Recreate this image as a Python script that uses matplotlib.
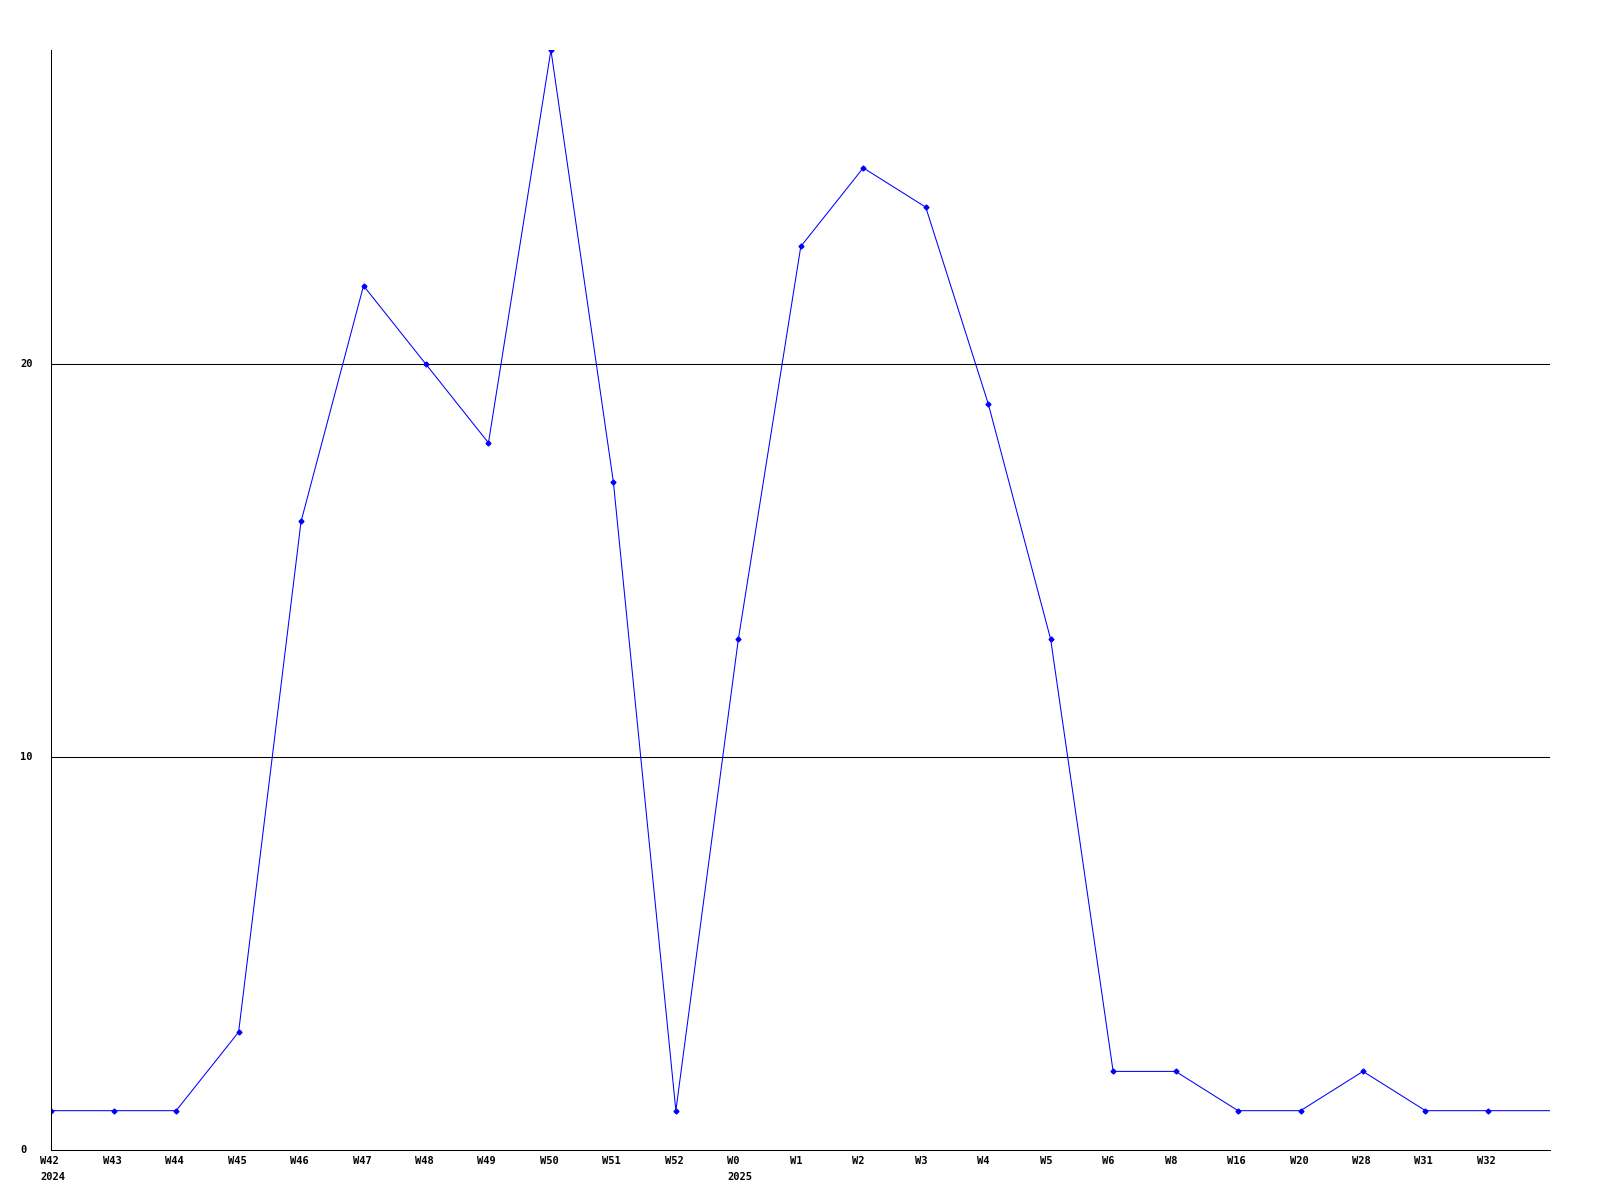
import matplotlib
matplotlib.use("Agg")
import matplotlib.pyplot as plt
import matplotlib.transforms as mtransforms

# weekly counts
weeks = ["W42", "W43", "W44", "W45", "W46", "W47", "W48", "W49", "W50", "W51",
         "W52", "W0", "W1", "W2", "W3", "W4", "W5", "W6", "W8", "W16",
         "W20", "W28", "W31", "W32"]
years = {0: "2024", 11: "2025"}
counts = [1, 1, 1, 3, 16, 22, 20, 18, 28, 17,
          1, 13, 23, 25, 24, 19, 13, 2, 2, 1,
          1, 2, 1, 1]
y_ticks = [0, 10, 20]

fig = plt.figure(figsize=(16, 12), dpi=100)
ax = fig.add_axes([0.032, 0.0417, 0.937, 0.9166])

x = list(range(len(weeks)))
n = len(weeks)
lw = 0.75  # about one pixel
# line continues flat to the right edge
ax.plot(x + [n], counts + [counts[-1]], color="#0000ff", linewidth=lw)
ax.plot(x, counts, linestyle="none", marker="D", markersize=2.5, color="#0000ff")

ax.set_xlim(0, n)
ax.set_ylim(0, max(counts))

for t in y_ticks[1:]:
    ax.axhline(t, color="black", linewidth=lw, zorder=0)

for s in ["top", "right"]:
    ax.spines[s].set_visible(False)
for s in ["left", "bottom"]:
    ax.spines[s].set_color("black")
    ax.spines[s].set_linewidth(lw)

ax.set_xticks([])
ax.set_yticks([])

font = dict(family="DejaVu Sans Mono", weight="bold", fontsize=7.5, color="black")

# x labels, left-aligned a bit left of the point
trans_x = ax.get_xaxis_transform()
for i, w in enumerate(weeks):
    off = mtransforms.offset_copy(trans_x, fig=fig, x=-11, y=-11, units="dots")
    ax.text(i, 0, w, transform=off, ha="left", va="center", **font)
    if i in years:
        off2 = mtransforms.offset_copy(trans_x, fig=fig, x=-11, y=-27, units="dots")
        ax.text(i, 0, years[i], transform=off2, ha="left", va="center", **font)

# y labels at the far left of the figure
trans_y = mtransforms.blended_transform_factory(fig.transFigure, ax.transData)
for t in y_ticks:
    ax.text(20 / 1600, t, str(t), transform=trans_y, ha="left", va="center", **font)

fig.savefig("out.png", dpi=100)
